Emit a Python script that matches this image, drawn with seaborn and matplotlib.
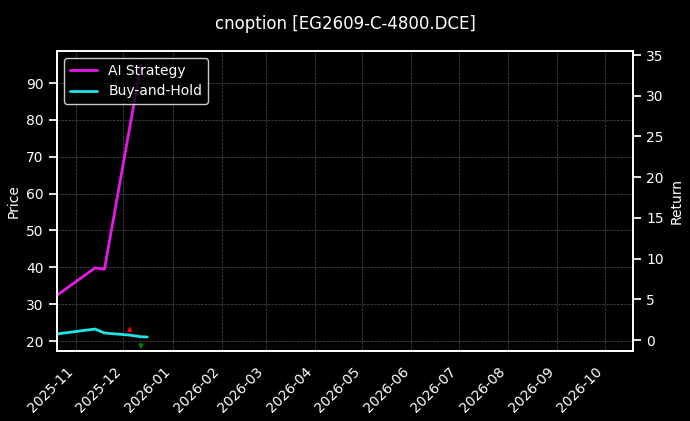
import matplotlib
matplotlib.use("Agg")
import matplotlib.pyplot as plt
import matplotlib.dates as mdates
import seaborn as sns
import pandas as pd

sns.set_theme(style="dark")
plt.style.use("dark_background")
plt.rcParams.update({"font.size": 10, "axes.labelsize": 10, "xtick.labelsize": 10,
                     "ytick.labelsize": 10, "legend.fontsize": 10, "figure.titlesize": 12})

ai_dates = pd.to_datetime(["2025-10-20", "2025-11-13", "2025-11-19", "2025-12-12"])
ai_return = [5.5, 8.85, 8.7, 33.8]
bh_dates = pd.to_datetime(["2025-10-20", "2025-11-13", "2025-11-19", "2025-12-05", "2025-12-12", "2025-12-16"])
bh_return = [0.74, 1.35, 0.86, 0.6, 0.4, 0.37]
sig_dates = pd.to_datetime(["2025-12-05", "2025-12-12"])
sig_from = [22.2, 19.9]
sig_to = [24.8, 17.0]
sig_colors = ["red", "green"]

fig = plt.figure(figsize=(6.9, 4.21), dpi=100)
ax = fig.add_axes([57/690, 1-351/421, 576/690, 300/421])
ax2 = ax.twinx()

ax.set_ylim(17.3, 98.7)
ax2.set_ylim(-1.35, 35.5)
ax.set_xlim(pd.Timestamp("2025-10-20"), pd.Timestamp("2026-10-19"))
ax.set_ylabel("Price")
ax2.set_ylabel("Return")

for d, a, b, c in zip(sig_dates, sig_from, sig_to, sig_colors):
    ax.annotate("", xy=(d, b), xytext=(d, a),
                arrowprops=dict(arrowstyle="-|>", color=c, lw=1.2, mutation_scale=6),
                annotation_clip=False)

sns.lineplot(x=ai_dates, y=ai_return, ax=ax2, color="#e619e6", lw=2, label="AI Strategy", legend=False)
sns.lineplot(x=bh_dates, y=bh_return, ax=ax2, color="#1ee6e6", lw=2, label="Buy-and-Hold", legend=False)

ax.grid(True, color="#888888", ls="--", lw=0.5, alpha=0.6)
ax.xaxis.set_major_locator(mdates.MonthLocator())
ax.xaxis.set_major_formatter(mdates.DateFormatter("%Y-%m"))
plt.setp(ax.get_xticklabels(), rotation=45, ha="right")
ax2.set_zorder(ax.get_zorder() + 1)
ax2.patch.set_visible(False)
ax.set_facecolor("black")

h, l = ax2.get_legend_handles_labels()
ax2.legend(h, l, loc="upper left", facecolor="black", edgecolor="white", framealpha=0.8)
fig.suptitle("cnoption [EG2609-C-4800.DCE]", y=0.965)
fig.savefig("out.png", dpi=100, facecolor="black")
